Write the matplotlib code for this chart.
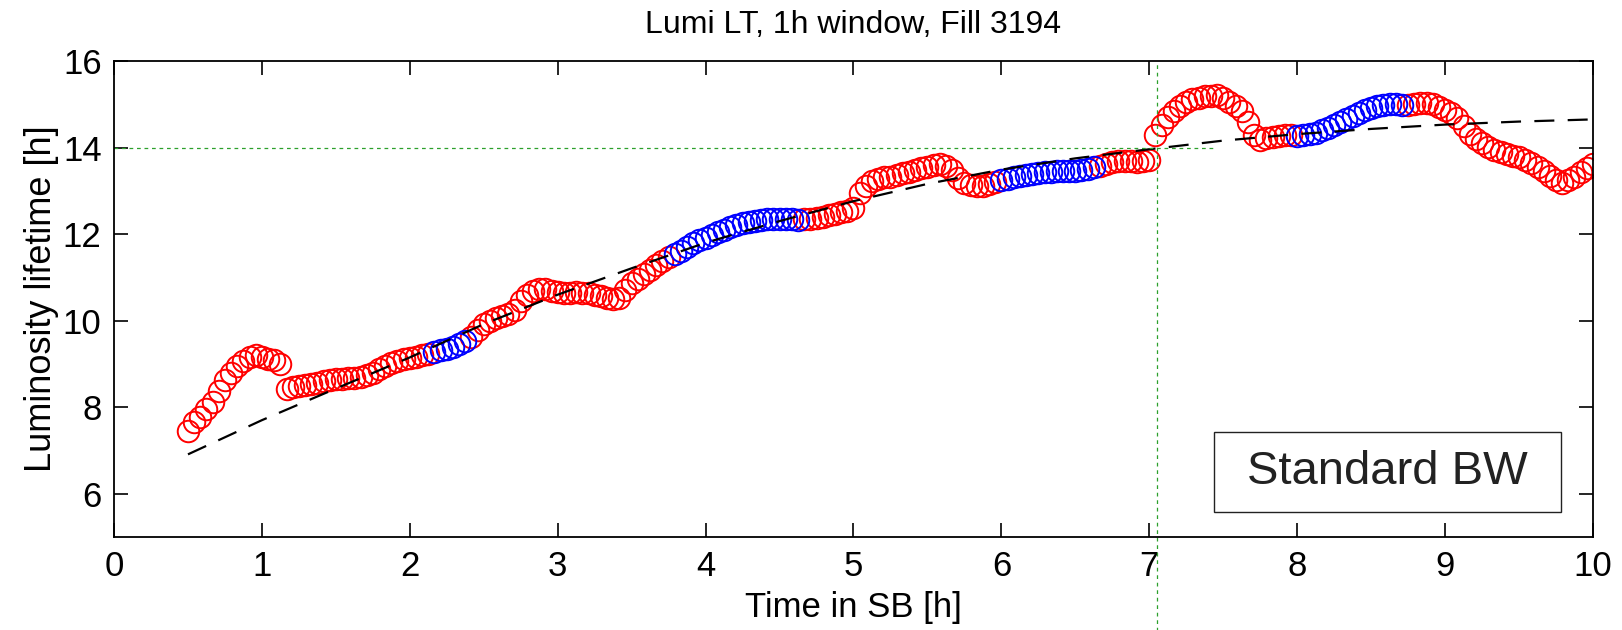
import matplotlib
matplotlib.use("Agg")
import matplotlib.pyplot as plt
import numpy as np
from matplotlib.patches import Rectangle

plt.rcParams["font.family"] = ["Liberation Sans", "DejaVu Sans"]

# Measured luminosity lifetime, one point every 2.5 min from 0.5 h in SB
T_START = 0.5
T_STEP = 1.0 / 24.0
LIFETIME = [
    7.45, 7.65, 7.78, 7.95, 8.12, 8.38, 8.62, 8.80, 8.95, 9.07, 9.17, 9.20,
    9.17, 9.12, 9.10, 9.00, 8.43, 8.46, 8.49, 8.52, 8.54, 8.57, 8.60, 8.63,
    8.65, 8.66, 8.67, 8.68, 8.70, 8.74, 8.80, 8.88, 8.95, 9.02, 9.07, 9.11,
    9.14, 9.17, 9.20, 9.23, 9.27, 9.31, 9.35, 9.40, 9.45, 9.52, 9.62, 9.78,
    9.92, 10.00, 10.05, 10.10, 10.16, 10.25, 10.45, 10.60, 10.68, 10.72, 10.72, 10.69,
    10.66, 10.65, 10.65, 10.66, 10.65, 10.63, 10.60, 10.57, 10.53, 10.50, 10.53, 10.70,
    10.86, 10.96, 11.07, 11.17, 11.28, 11.38, 11.47, 11.55, 11.62, 11.70, 11.79, 11.86,
    11.92, 11.98, 12.04, 12.10, 12.16, 12.21, 12.25, 12.29, 12.31, 12.33, 12.34, 12.34,
    12.34, 12.34, 12.34, 12.33, 12.34, 12.35, 12.37, 12.40, 12.43, 12.46, 12.50, 12.53,
    12.60, 12.95, 13.12, 13.22, 13.28, 13.31, 13.33, 13.36, 13.40, 13.44, 13.48, 13.52,
    13.56, 13.59, 13.61, 13.58, 13.48, 13.30, 13.18, 13.13, 13.11, 13.12, 13.15, 13.20,
    13.25, 13.28, 13.31, 13.34, 13.37, 13.39, 13.41, 13.43, 13.44, 13.45, 13.46, 13.46,
    13.46, 13.47, 13.50, 13.54, 13.58, 13.62, 13.66, 13.68, 13.69, 13.68, 13.66, 13.68,
    13.72, 14.30, 14.52, 14.70, 14.85, 14.96, 15.05, 15.11, 15.15, 15.18, 15.20, 15.22,
    15.15, 15.06, 14.97, 14.85, 14.60, 14.30, 14.18, 14.21, 14.24, 14.27, 14.29, 14.29,
    14.27, 14.28, 14.31, 14.34, 14.40, 14.46, 14.52, 14.58, 14.65, 14.72, 14.80, 14.86,
    14.92, 14.96, 14.99, 15.00, 15.00, 14.99, 14.99, 15.00, 15.02, 15.03, 15.00, 14.94,
    14.86, 14.79, 14.68, 14.50, 14.32, 14.20, 14.10, 14.01, 13.95, 13.90, 13.86, 13.81,
    13.77, 13.71, 13.64, 13.55, 13.45, 13.35, 13.25, 13.19, 13.24, 13.33, 13.43, 13.53,
    13.63,
]

# Time windows drawn in blue
BLUE_WINDOWS = [(2.15, 2.38), (3.78, 4.64), (5.99, 6.63), (7.99, 8.72)]

# Fitted lifetime curve
FIT_TIME = [0.5, 1.0, 1.5, 2.0, 2.5, 3.0, 3.5, 4.0, 4.5, 5.0,
            5.5, 6.0, 6.5, 7.0, 7.5, 8.0, 8.5, 9.0, 9.5, 10.0]
FIT_LIFETIME = [6.91, 7.70, 8.43, 9.15, 9.92, 10.60, 11.21, 11.80, 12.30, 12.76,
                13.16, 13.49, 13.75, 13.96, 14.16, 14.31, 14.43, 14.53, 14.60, 14.65]

REF_LIFETIME = 14.0
REF_TIME = 7.05
REF_HLINE_END = 7.45

X_TICKS = list(range(0, 11))
Y_TICKS = [6, 8, 10, 12, 14, 16]


def main() -> None:
    y = np.array(LIFETIME)
    t = T_START + T_STEP * np.arange(len(y))
    blue = np.zeros(len(t), dtype=bool)
    for lo, hi in BLUE_WINDOWS:
        blue |= (t >= lo) & (t <= hi)

    fig = plt.figure(figsize=(16.22, 6.30), dpi=100)
    ax = fig.add_axes([0.0703, 0.1476, 0.9118, 0.7556])

    marker_kw = dict(linestyle="none", marker="o", markersize=15.5,
                     markerfacecolor="none", markeredgewidth=1.4)
    ax.plot(t[~blue], y[~blue], markeredgecolor="#ff0000", **marker_kw)
    ax.plot(t[blue], y[blue], markeredgecolor="#0000ff", **marker_kw)

    ax.plot(FIT_TIME, FIT_LIFETIME, color="black", linewidth=1.6,
            linestyle=(0, (9, 6)))

    # reference lines: lifetime level and the time it is reached
    ax.plot([0, REF_HLINE_END], [REF_LIFETIME, REF_LIFETIME], color="#2ca02c",
            linewidth=0.9, linestyle=(0, (3, 3)))
    ax.axvline(REF_TIME, ymin=-0.2, ymax=1.0, color="#2ca02c", linewidth=0.9,
               linestyle=(0, (3, 3)), clip_on=False)

    ax.set_xlim(0, 10)
    ax.set_ylim(5, 16)
    ax.set_xticks(X_TICKS)
    ax.set_yticks(Y_TICKS)
    ax.tick_params(direction="in", length=10, width=1.2, labelsize=25,
                   top=True, right=True, pad=9)
    for sp in ax.spines.values():
        sp.set_linewidth(1.3)

    ax.set_xlabel("Time in SB [h]", fontsize=25, labelpad=6)
    ax.set_ylabel("Luminosity lifetime [h]", fontsize=26, labelpad=3)
    ax.set_title("Lumi LT, 1h window, Fill 3194", fontsize=23, pad=20)

    ax.add_patch(Rectangle((0.744, 0.0525), 0.2346, 0.168, transform=ax.transAxes,
                           facecolor="white", edgecolor="#222222", linewidth=1.0,
                           zorder=5))
    ax.text(0.744 + 0.2346 / 2, 0.0525 + 0.168 / 2, "Standard BW",
            transform=ax.transAxes, ha="center", va="center", fontsize=34,
            color="#222222", zorder=6)

    fig.savefig("out.png", dpi=100)
    plt.close(fig)


if __name__ == "__main__":
    main()
